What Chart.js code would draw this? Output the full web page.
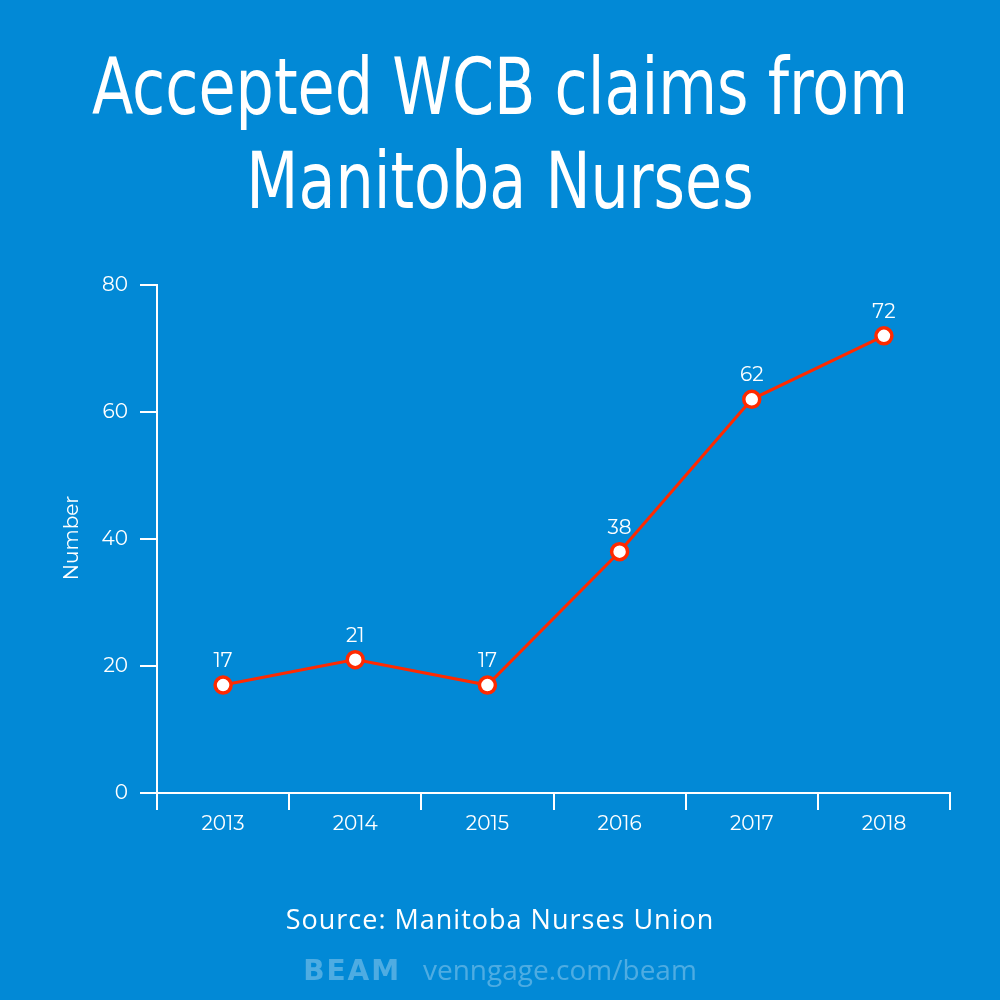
<!DOCTYPE html>
<html><head><meta charset="utf-8">
<script src="https://cdn.jsdelivr.net/npm/chart.js@4"></script>
<style>
html,body{margin:0;padding:0;width:1000px;height:1000px;background:#0289d6;overflow:hidden;font-family:"Open Sans",sans-serif;color:#fff}
#title{position:absolute;top:40px;left:0;width:1000px;text-align:center;font-family:"Liberation Sans Narrow","DejaVu Sans Condensed",sans-serif;font-size:78px;line-height:94px;transform:scaleX(0.86)}
#src{position:absolute;top:900px;width:1000px;text-align:center;font-size:27px;letter-spacing:1px}
#foot{position:absolute;top:950px;width:1000px;text-align:center;font-size:28px;color:rgba(255,255,255,0.3)}
#c{position:absolute;left:0;top:0}
</style></head><body>
<div id="title">Accepted WCB claims from<br>Manitoba Nurses</div>
<canvas id="c" width="1000" height="1000"></canvas>
<div id="src">Source: Manitoba Nurses Union</div>
<div id="foot"><b style="font-family:'DejaVu Sans';letter-spacing:2px">BEAM</b>&nbsp;&nbsp;&nbsp;venngage.com/beam</div>
<script>
const years=["2013","2014","2015","2016","2017","2018"];
const claims=[17,21,17,38,62,72];
const yTicks=[0,20,40,60,80];
const F="'Montserrat','Open Sans',sans-serif";
const extra={id:'extra',afterDatasetsDraw(ch){const c=ch.ctx;const m=ch.getDatasetMeta(0);c.save();c.fillStyle='#fff';c.font='20px '+F;c.textAlign='center';c.textBaseline='alphabetic';
m.data.forEach((p,i)=>c.fillText(String(claims[i]),p.x,p.y-18));
c.translate(72,538);c.rotate(-Math.PI/2);c.font='20px '+F;c.textBaseline='middle';c.fillText('Number',0,0);c.restore();}};
new Chart(document.getElementById('c'),{type:'line',
data:{labels:years,datasets:[{data:claims,borderColor:'#ff2a00',borderWidth:3,pointBackgroundColor:'#fff',pointBorderColor:'#ff2a00',pointBorderWidth:3.5,pointRadius:8,tension:0}]},
options:{responsive:false,animation:false,layout:{padding:{left:0,right:50,top:285,bottom:0}},
plugins:{legend:{display:false},tooltip:{enabled:false}},
scales:{
x:{offset:true,afterFit(s){s.height=207},grid:{offset:true,drawOnChartArea:false,color:'#fff',tickLength:17,lineWidth:2},border:{color:'#fff',width:2},ticks:{color:'#fff',font:{size:20,family:F},padding:2}},
y:{min:0,max:80,afterFit(s){s.width=157},afterBuildTicks(s){s.ticks=yTicks.map(v=>({value:v}))},grid:{drawOnChartArea:false,color:'#fff',tickLength:17,lineWidth:2},border:{color:'#fff',width:2},ticks:{color:'#fff',font:{size:20,family:F},padding:12}}}},
plugins:[extra]});
</script></body></html>
